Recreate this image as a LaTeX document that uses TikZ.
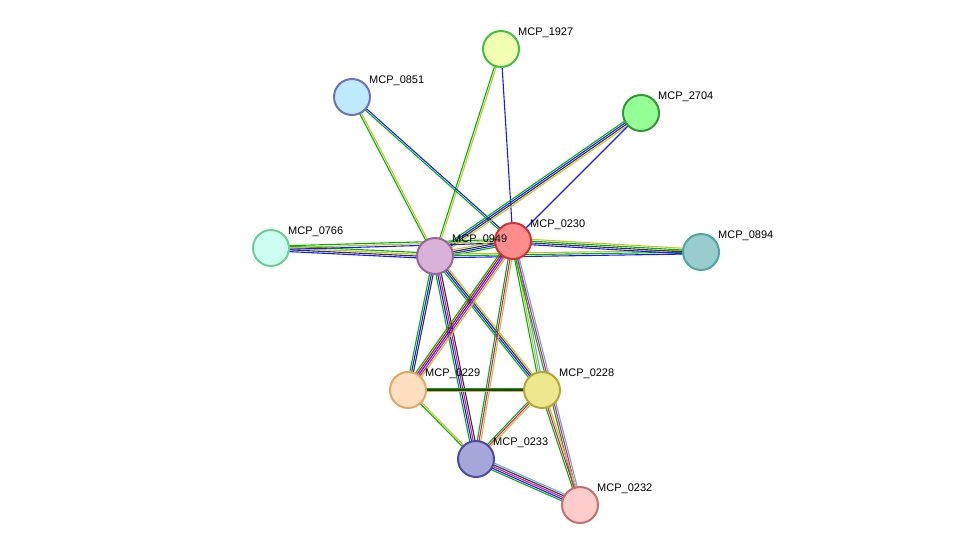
\documentclass[tikz,border=0pt]{standalone}
\usepackage{fontspec}
\setmainfont{Liberation Sans}
\usetikzlibrary{calc}
\colorlet{nb}{green!70!black}
\colorlet{co}{blue!90!white}
\colorlet{cx}{black!80}
\colorlet{tm}{yellow!75!black}
\colorlet{ex}{magenta!90!black}
\colorlet{db}{cyan!60!blue!60}
\colorlet{fu}{red!85!black}
\tikzset{
    prot/.style={circle,draw,line width=2pt,minimum size=36pt,inner sep=0pt},
    lbl/.style={font=\fontsize{11}{13}\selectfont,inner sep=1pt}
}
\newcommand{\strands}[3]{%
    \foreach \c [count=\i] in {#3} {\xdef\nstr{\i}}
    \foreach \c [count=\i] in {#3} {
        \pgfmathsetmacro{\off}{(\i-(\nstr+1)/2)*1.8}
        \draw[\c,line width=1.1pt] ($(#1)!\off pt!90:(#2)$) -- ($(#2)!\off pt!-90:(#1)$);
    }
}
\begin{document}
\begin{tikzpicture}[x=1pt,y=-1pt]
    \useasboundingbox (0,0) rectangle (976,550);
    % proteins
    \coordinate (p1927) at (501,49);
    \coordinate (p0851) at (352,97);
    \coordinate (p2704) at (641,113);
    \coordinate (p0766) at (271,248);
    \coordinate (p0949) at (435,256);
    \coordinate (p0230) at (513,241);
    \coordinate (p0894) at (701,252);
    \coordinate (p0229) at (408,390);
    \coordinate (p0228) at (542,390);
    \coordinate (p0233) at (476,459);
    \coordinate (p0232) at (580,505);
    % interactions
    \strands{p1927}{p0949}{nb,tm}
    \strands{p1927}{p0230}{co}
    \strands{p0851}{p0949}{nb,tm}
    \strands{p0851}{p0230}{nb,co}
    \strands{p2704}{p0949}{nb,co,cx,tm}
    \strands{p2704}{p0230}{co}
    \strands{p0766}{p0949}{co,cx,tm,nb}
    \strands{p0766}{p0230}{co,tm,nb}
    \strands{p0949}{p0230}{nb,co,cx,tm}
    \strands{p0949}{p0894}{co,nb,tm}
    \strands{p0230}{p0894}{co,cx,nb,tm}
    \strands{p0949}{p0229}{nb,co,cx}
    \strands{p0949}{p0228}{nb,co,cx,tm}
    \strands{p0949}{p0233}{nb,co,ex,cx}
    \strands{p0230}{p0229}{nb,fu,co,ex,tm}
    \strands{p0230}{p0228}{nb,tm,db}
    \strands{p0230}{p0233}{nb,ex,tm}
    \strands{p0230}{p0232}{nb,ex,db}
    \strands{p0229}{p0228}{tm,cx,nb}
    \strands{p0229}{p0233}{nb,tm}
    \strands{p0228}{p0233}{nb,ex,tm}
    \strands{p0228}{p0232}{nb,ex,tm}
    \strands{p0233}{p0232}{nb,co,ex,cx,db}
    % nodes
    \node[prot,draw=green!50!gray,fill=green!20!yellow!30] (n1927) at (p1927) {};
    \node[prot,draw=blue!40!gray!80,fill=cyan!25] (n0851) at (p0851) {};
    \node[prot,draw=green!50!black!80,fill=green!60!white!70] (n2704) at (p2704) {};
    \node[prot,draw=teal!60!green!60,fill=green!25!cyan!20] (n0766) at (p0766) {};
    \node[prot,draw=violet!50!gray!80,fill=violet!30] (n0949) at (p0949) {};
    \node[prot,draw=red!60!gray,fill=red!45] (n0230) at (p0230) {};
    \node[prot,draw=teal!70,fill=teal!40] (n0894) at (p0894) {};
    \node[prot,draw=brown!60!orange!70,fill=orange!25] (n0229) at (p0229) {};
    \node[prot,draw=olive!70,fill=olive!40!yellow!40] (n0228) at (p0228) {};
    \node[prot,draw=blue!50!black!70,fill=blue!40!gray!50] (n0233) at (p0233) {};
    \node[prot,draw=red!40!gray!80,fill=red!20] (n0232) at (p0232) {};
    % labels
    \foreach \n in {1927,0851,2704,0766,0949,0230,0894,0229,0228,0233,0232}
        \node[lbl,anchor=south west] (t\n) at ($(n\n.center)+(16,-10)$) {MCP\_\n};
\end{tikzpicture}
\end{document}
